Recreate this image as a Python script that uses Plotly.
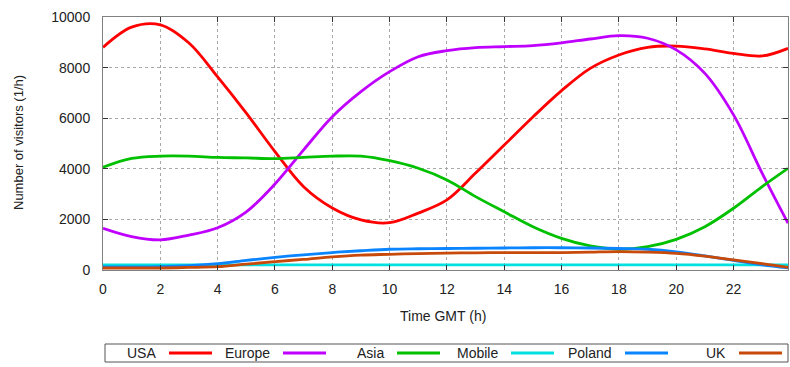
import plotly.graph_objects as go

hours = [0, 1, 2, 3, 4, 5, 6, 7, 8, 9, 10, 11, 12, 13, 14, 15, 16, 17, 18, 19, 20, 21, 22, 23, 23.9]

usa = [8800, 9600, 9690, 8970, 7630, 6200, 4680, 3290, 2450, 1980, 1870, 2250, 2770, 3830, 4940, 6050,
       7090, 7970, 8500, 8800, 8850, 8740, 8560, 8460, 8760]
europe = [1650, 1320, 1190, 1380, 1670, 2300, 3400, 4750, 6060, 7050, 7840, 8430, 8670, 8790, 8830, 8870,
          8980, 9130, 9260, 9160, 8700, 7770, 6130, 3820, 1850]
asia = [4060, 4410, 4500, 4500, 4450, 4430, 4400, 4450, 4500, 4500, 4320, 4020, 3560, 2900, 2300, 1710,
        1250, 950, 820, 920, 1210, 1710, 2440, 3300, 4020]
mobile = [200, 200, 200, 200, 200, 200, 200, 200, 200, 200, 200, 200, 200, 200, 200, 200,
          200, 200, 200, 200, 200, 200, 200, 200, 200]
poland = [120, 120, 130, 170, 250, 380, 500, 600, 690, 760, 820, 840, 850, 860, 870, 880,
          880, 870, 850, 820, 720, 560, 380, 200, 80]
uk = [80, 80, 80, 100, 130, 230, 330, 420, 520, 590, 620, 650, 670, 680, 690, 690,
      690, 710, 730, 710, 660, 550, 400, 250, 100]

series_names = ["USA", "Europe", "Asia", "Mobile", "Poland", "UK"]
series_values = [usa, europe, asia, mobile, poland, uk]
colors = ["#ff0000", "#c000ff", "#00c000", "#00e0e0", "#0a84ff", "#c84a0a"]

x_ticks = [0, 2, 4, 6, 8, 10, 12, 14, 16, 18, 20, 22]
y_ticks = [0, 2000, 4000, 6000, 8000, 10000]

W, H = 790, 367
L, R, T, B = 103, 788, 17, 270
pw, ph = R - L, B - T

fig = go.Figure()
for name, vals, col in zip(series_names, series_values, colors):
    fig.add_trace(go.Scatter(x=hours, y=vals, name=name, mode="lines",
                             line=dict(color=col, width=2.8, shape="spline", smoothing=1.0),
                             showlegend=False))

font = dict(family="Liberation Sans, Arial, sans-serif", size=14, color="#222222")
vfont = dict(family="Liberation Sans Narrow, Arial Narrow, Liberation Sans, sans-serif",
             size=13, color="#222222")

def px_x(px):
    return (px - L) / pw

def px_y(py):
    return (B - py) / ph

shapes = []
annotations = []
# legend box
shapes.append(dict(type="rect", xref="paper", yref="paper",
                   x0=px_x(105), x1=px_x(788), y0=px_y(362), y1=px_y(344),
                   line=dict(color="#555555", width=1), fillcolor="rgba(0,0,0,0)"))
for i, (name, col) in enumerate(zip(series_names, colors)):
    lx = 169 + 114 * i
    shapes.append(dict(type="line", xref="paper", yref="paper",
                       x0=px_x(lx), x1=px_x(lx + 43), y0=px_y(353), y1=px_y(353),
                       line=dict(color=col, width=2.8)))
    annotations.append(dict(xref="paper", yref="paper", x=px_x(158 + 114 * i), y=px_y(353),
                            text=name, showarrow=False, xanchor="right", yanchor="middle",
                            font=font))

# axis titles
annotations.append(dict(xref="paper", yref="paper", x=px_x(443), y=px_y(316),
                        text="Time GMT (h)", showarrow=False, xanchor="center", yanchor="middle",
                        font=font))
annotations.append(dict(xref="paper", yref="paper", x=px_x(18), y=px_y(143),
                        text="Number of visitors (1/h)", showarrow=False, textangle=-90,
                        xanchor="center", yanchor="middle", font=vfont))

fig.update_layout(
    width=W, height=H,
    margin=dict(l=L, r=W - R, t=T, b=H - B, autoexpand=False),
    paper_bgcolor="white", plot_bgcolor="white",
    font=font,
    shapes=shapes, annotations=annotations,
    xaxis=dict(range=[0, 23.9], tickvals=x_ticks, ticktext=[str(v) for v in x_ticks],
               showgrid=True, gridcolor="#a8a8a8", griddash="dot", gridwidth=1,
               showline=True, linecolor="#808080", linewidth=1, mirror="ticks",
               ticks="inside", ticklen=5, tickcolor="#333333",
               zeroline=False, ticklabelstandoff=6, automargin=False),
    yaxis=dict(range=[0, 10000], tickvals=y_ticks, ticktext=[str(v) for v in y_ticks],
               showgrid=True, gridcolor="#a8a8a8", griddash="dot", gridwidth=1,
               showline=True, linecolor="#808080", linewidth=1, mirror="ticks",
               ticks="inside", ticklen=5, tickcolor="#333333",
               zeroline=False, ticklabelstandoff=9, automargin=False),
)

fig.write_html("out.html", config={"displayModeBar": False},
               post_script="document.body.style.margin='0';document.body.style.overflow='hidden';")
